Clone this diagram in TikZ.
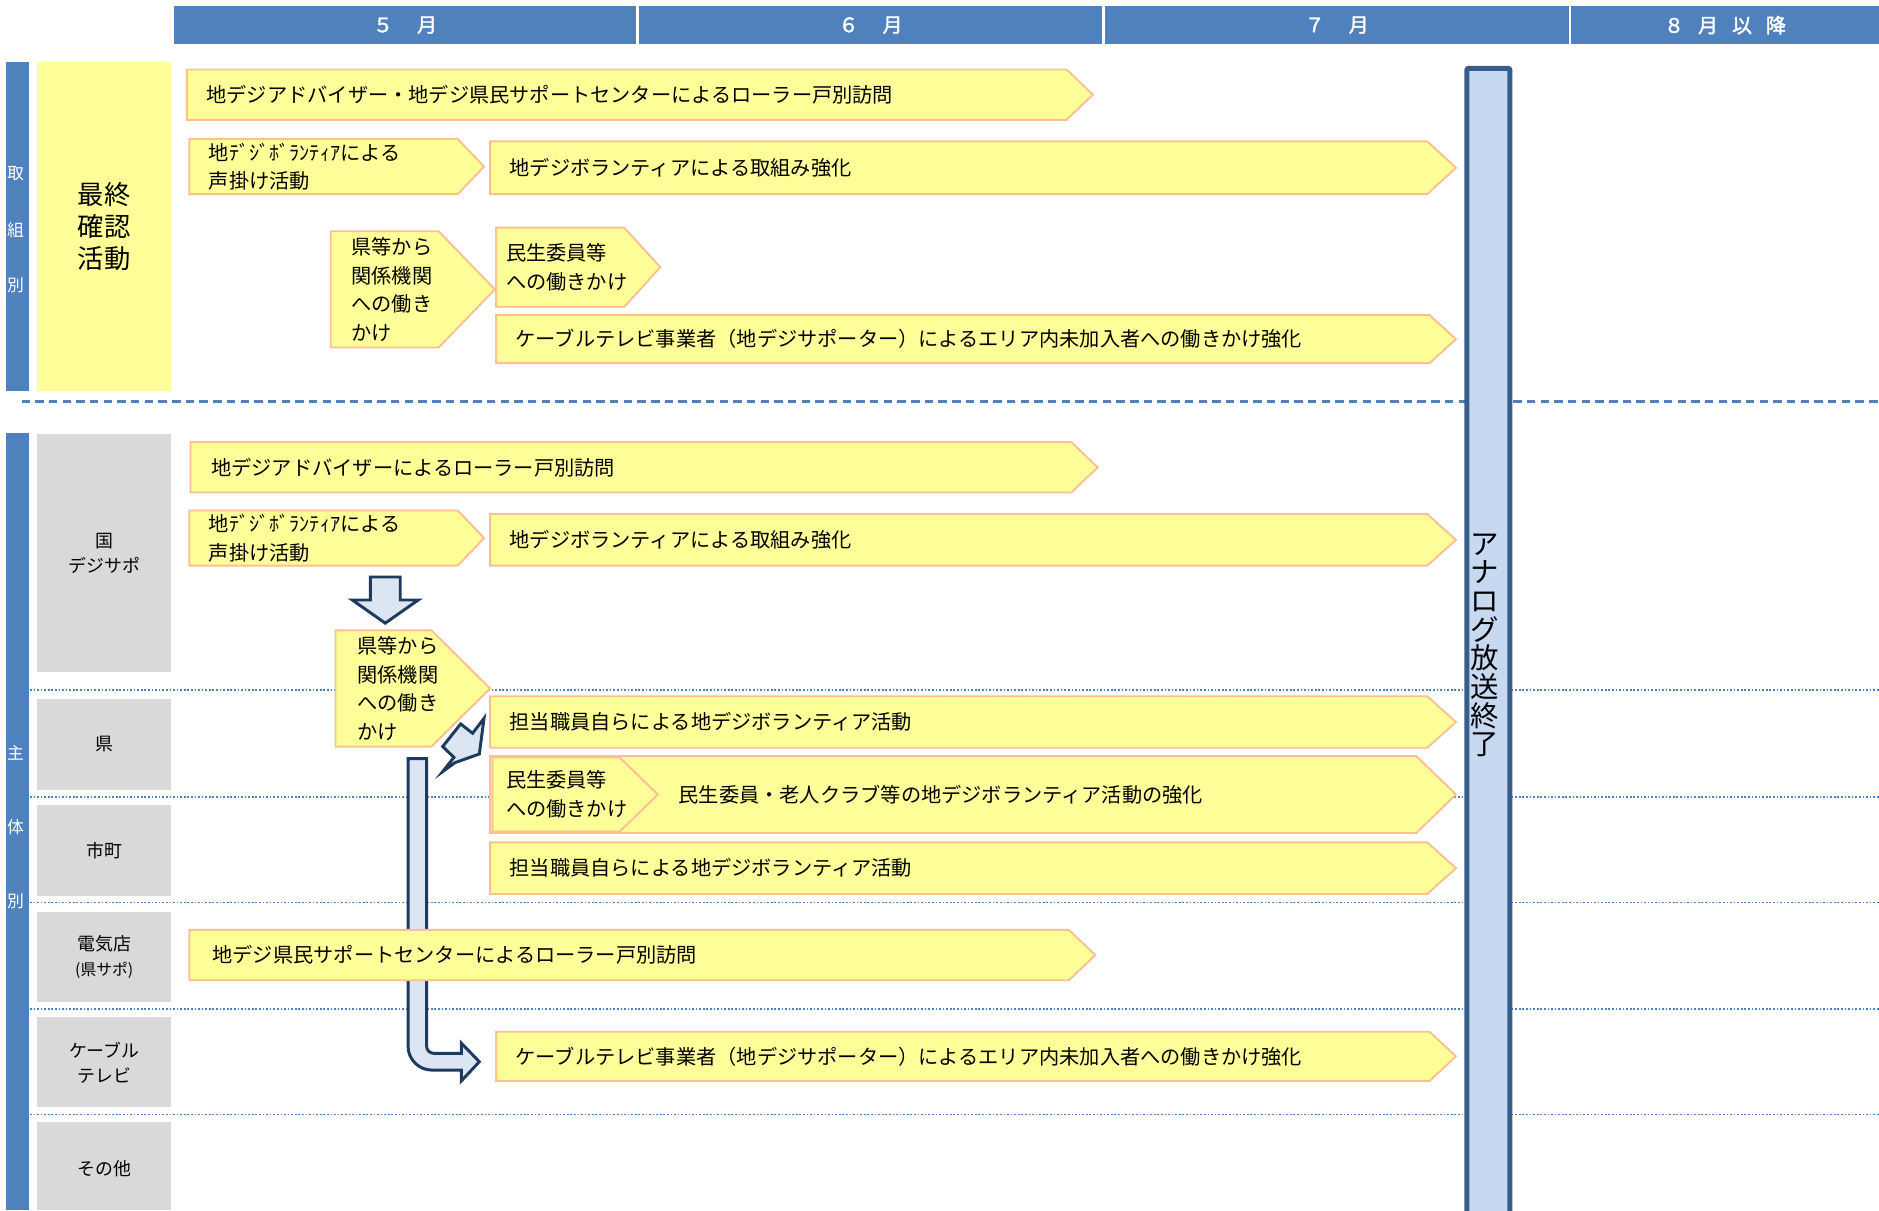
\documentclass[tikz,border=0pt]{standalone}
\usepackage{fontspec}
\setmainfont{Noto Sans CJK JP}[AutoFakeBold=2]
\usepackage{tikz}

\definecolor{hdrblue}{HTML}{4F81BD}
\definecolor{boxyellow}{HTML}{FFFF99}
\definecolor{boxedge}{HTML}{FAC090}
\definecolor{rowgrey}{HTML}{D9D9D9}
\definecolor{barfill}{HTML}{C6D9F1}
\definecolor{baredge}{HTML}{385D8A}
\definecolor{blkfill}{HTML}{DCE6F2}
\definecolor{blkedge}{HTML}{1F3A5F}

\tikzset{
  month/.style={fill=hdrblue},
  monthtext/.style={text=white, inner sep=0, font=\fontsize{9.5}{11}\selectfont\bfseries},
  sidebar/.style={fill=hdrblue},
  sidetext/.style={text=white, inner sep=0, font=\fontsize{8}{9}\selectfont},
  rowbox/.style={fill=rowgrey},
  rowtext/.style={align=center, inner sep=0, font=\fontsize{8.5}{11.9}\selectfont},
  abox/.style={fill=boxyellow, draw=boxedge, line width=0.9pt, line join=miter},
  atext/.style={anchor=west, align=left, inner sep=0, font=\fontsize{9.6}{13.6}\selectfont},
  rowline/.style={draw=hdrblue, line width=0.8pt, dash pattern=on 0.8pt off 0.9pt},
  splitline/.style={draw=hdrblue, line width=1.1pt, dash pattern=on 4pt off 2.5pt},
  blockarrow/.style={fill=blkfill, draw=blkedge, line width=1.4pt, line join=miter},
  analog/.style={fill=barfill, draw=baredge, line width=2.4pt, rounded corners=1pt},
}

% arrow box: [text offset]{name}{left}{top}{right}{bottom}{tip depth}{text}
\newcommand{\abox}[8][16]{%
  \draw[abox] (#3,#4) -- ({#5-#7},#4) -- (#5,{(#4+#6)/2}) -- ({#5-#7},#6) -- (#3,#6) -- cycle;
  \node[atext] (#2) at ({#3+#1},{(#4+#6)/2}) {#8};}

\begin{document}
\begin{tikzpicture}[x=0.02cm, y=-0.02cm]
\useasboundingbox (0,0) rectangle (1568,1010);

% months
\fill[month] (145,5) rectangle (531,37);
\fill[month] (533,5) rectangle (920,37);
\fill[month] (922,5) rectangle (1309,37);
\fill[month] (1311,5) rectangle (1568,37);
\node[monthtext] (may) at (338,21) {５\hspace{1.2em}月};
\node[monthtext] (jun) at (726.5,21) {６\hspace{1.2em}月};
\node[monthtext] (jul) at (1115.5,21) {７\hspace{1.2em}月};
\node[monthtext] (aug) at (1439.5,21) {８\hspace{0.7em}月\hspace{0.7em}以\hspace{0.7em}降};

% left labels
\fill[sidebar] (5,52) rectangle (24,326);
\fill[sidebar] (5,361) rectangle (24,1010);
\foreach \ch/\y [count=\i] in {取/145, 組/192, 別/238}
  \node[sidetext] (top\i) at (13,\y) {\ch};
\foreach \ch/\y [count=\i] in {主/628, 体/690, 別/752}
  \node[sidetext] (sub\i) at (13,\y) {\ch};

\fill[boxyellow] (31,52) rectangle (143,326);
\node[rowtext, font=\fontsize{12.5}{15.3}\selectfont] (final) at (87,189) {最終\\確認\\活動};

\foreach \t/\b in {362/561, 583/659, 672/748, 761/836, 849/924, 936/1010}
  \fill[rowbox] (31,\t) rectangle (143,\b);
\node[rowtext] (kuni) at (87,461.5) {国\\デジサポ};
\node[rowtext] (ken) at (87,621) {県};
\node[rowtext] (shicho) at (87,710) {市町};
\node[rowtext] (denki) at (87,799) {電気店\\{\fontsize{7.5}{9}\selectfont (県サポ)}};
\node[rowtext] (cable) at (87,886.5) {ケーブル\\テレビ};
\node[rowtext] (other) at (87,975) {その他};

% separators
\draw[splitline] (18,335) -- (1568,335);
\foreach \y in {576,665,753,842,930}
  \draw[rowline] (25,\y) -- (1568,\y);

% analog switch-off
\draw[analog] (1224,57) rectangle (1260,1015);
\node[align=center, inner sep=0, font=\fontsize{13.5}{13.6}\selectfont] (end) at (1239,538.5)
  {ア\\ナ\\ロ\\グ\\放\\送\\終\\了};

% upper block
\abox{adv1}{156}{58}{912}{100}{22}{地デジアドバイザー・地デジ県民サポートセンターによるローラー戸別訪問}
\abox{koe1}{158}{116}{404}{162}{22}{地ﾃﾞｼﾞﾎﾞﾗﾝﾃｨｱによる\\声掛け活動}
\abox{vol1}{409}{118}{1215}{162}{24}{地デジボランティアによる取組み強化}
\abox[17]{req1}{276}{193}{413}{290}{47}{県等から\\関係機関\\への働き\\かけ}
\abox[8]{min1}{414}{190}{551}{256}{30}{民生委員等\\への働きかけ}
\abox{cab1}{414}{263}{1215}{303}{22}{ケーブルテレビ事業者（地デジサポーター）によるエリア内未加入者への働きかけ強化}

% lower block
\abox[17]{adv2}{159}{369}{916}{411}{22}{地デジアドバイザーによるローラー戸別訪問}
\abox{koe2}{158}{426}{404}{472}{22}{地ﾃﾞｼﾞﾎﾞﾗﾝﾃｨｱによる\\声掛け活動}
\abox{vol2}{409}{429}{1215}{472}{24}{地デジボランティアによる取組み強化}

\draw[blockarrow] (309,481.5) -- (334,481.5) -- (334,500.7) -- (349,500.7)
  -- (321.5,520) -- (294,500.7) -- (309,500.7) -- cycle;

\abox[18]{req2}{280}{526}{409}{623}{49}{県等から\\関係機関\\への働き\\かけ}

\draw[blockarrow] (403.9,599.4) -- (400,629.2) -- (379.7,636.4) -- (369.4,643.9)
  -- (378.8,632) -- (369.4,623) -- (384.4,604.1) -- (394.4,611.9) -- cycle;

\abox{ken2}{409}{581}{1215}{624}{24}{担当職員自らによる地デジボランティア活動}
\abox[157]{min2}{409}{631}{1215}{695}{33}{民生委員・老人クラブ等の地デジボランティア活動の強化}
\abox[11]{min3}{411}{632}{549}{694}{32}{民生委員等\\への働きかけ}
\abox{shi2}{409}{703}{1215}{746}{24}{担当職員自らによる地デジボランティア活動}

\draw[blockarrow] (340.5,633) -- (340.5,873) .. controls (340.5,884) and (349.5,893) .. (360.5,893)
  -- (385,893) -- (385,902) -- (400,886) -- (385,870.5) -- (385,879) -- (362,879)
  .. controls (358.7,879) and (356,876.3) .. (356,873) -- (356,633) -- cycle;

\abox[19]{den2}{158}{776}{914}{818}{22}{地デジ県民サポートセンターによるローラー戸別訪問}
\abox{cab2}{414}{861}{1215}{902}{22}{ケーブルテレビ事業者（地デジサポーター）によるエリア内未加入者への働きかけ強化}
\end{tikzpicture}
\end{document}
